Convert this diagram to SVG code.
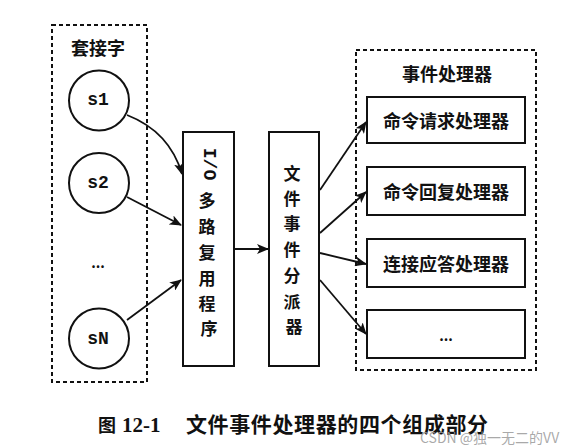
<svg xmlns="http://www.w3.org/2000/svg" width="580" height="447" viewBox="0 0 580 447">
<style>
  .dash { fill: none; stroke: #111; stroke-width: 2; stroke-dasharray: 4 3; }
  .box { fill: #fff; stroke: #111; stroke-width: 2; }
  .circ { fill: #fff; stroke: #111; stroke-width: 2; }
  .cjk { font-family: "Noto Sans CJK SC", "Noto Sans", sans-serif; font-weight: 700; fill: #111; text-anchor: middle; dominant-baseline: central; }
  .mono { font-family: "Liberation Mono", "DejaVu Sans Mono", monospace; font-weight: 700; fill: #111; text-anchor: middle; dominant-baseline: central; font-size: 18px; }
  .conn path { fill: none; stroke: #111; stroke-width: 1.8; marker-end: url(#arr); }
</style>
<defs>
  <marker id="arr" markerUnits="userSpaceOnUse" markerWidth="12" markerHeight="10" refX="11" refY="5" orient="auto">
    <path d="M0,0 L12,5 L0,10 L3,5 Z" fill="#111"/>
  </marker>
</defs>
<rect width="580" height="447" fill="#fff"/>

<g id="sockets">
  <rect class="dash" x="52" y="25" width="95" height="357"/>
  <text class="cjk" x="98" y="47" font-size="18">套接字</text>
</g>
<g id="s1">
  <circle class="circ" cx="99" cy="100.5" r="30"/>
  <text class="mono" x="98" y="100">s1</text>
</g>
<g id="s2">
  <circle class="circ" cx="99" cy="183" r="30"/>
  <text class="mono" x="98" y="183">s2</text>
</g>
<g id="sdots">
  <text class="cjk" x="98" y="262" font-size="14" font-weight="400">...</text>
</g>
<g id="sN">
  <circle class="circ" cx="99" cy="338.5" r="30"/>
  <text class="mono" x="98" y="339">sN</text>
</g>

<g id="io">
  <rect class="box" x="183" y="132" width="51" height="234"/>
  <text class="mono" transform="translate(209,164) rotate(90)">I/O</text>
  <text class="cjk" x="209" font-size="17">
    <tspan x="209" y="199">多</tspan>
    <tspan x="209" y="225">路</tspan>
    <tspan x="209" y="251">复</tspan>
    <tspan x="209" y="277">用</tspan>
    <tspan x="209" y="302">程</tspan>
    <tspan x="209" y="327">序</tspan>
  </text>
</g>

<g id="dispatcher">
  <rect class="box" x="269" y="132" width="50" height="234"/>
  <text class="cjk" x="294" font-size="17">
    <tspan x="294" y="172">文</tspan>
    <tspan x="294" y="197">件</tspan>
    <tspan x="294" y="222">事</tspan>
    <tspan x="294" y="248">件</tspan>
    <tspan x="294" y="274">分</tspan>
    <tspan x="294" y="300">派</tspan>
    <tspan x="294" y="325">器</tspan>
  </text>
</g>

<g id="handlers">
  <rect class="dash" x="356" y="50" width="180" height="320"/>
  <text class="cjk" x="447" y="73" font-size="18">事件处理器</text>
</g>
<g id="h1">
  <rect class="box" x="367" y="97" width="158" height="46"/>
  <text class="cjk" x="446" y="120" font-size="18">命令请求处理器</text>
</g>
<g id="h2">
  <rect class="box" x="367" y="167" width="158" height="48"/>
  <text class="cjk" x="446" y="191" font-size="18">命令回复处理器</text>
</g>
<g id="h3">
  <rect class="box" x="367" y="239" width="158" height="48"/>
  <text class="cjk" x="446" y="263" font-size="18">连接应答处理器</text>
</g>
<g id="h4">
  <rect class="box" x="367" y="310" width="158" height="48"/>
  <text class="cjk" x="446" y="335" font-size="14" font-weight="400">...</text>
</g>

<g id="connectors" class="conn">
  <path d="M127,115 C150,124 172,140 182,174"/>
  <path d="M127,197 L181,225"/>
  <path d="M127,320 L181,280"/>
  <path d="M234,249 L268,249"/>
  <path d="M320,190 L366,122"/>
  <path d="M320,233 L366,192"/>
  <path d="M320,253 L366,264"/>
  <path d="M320,280 L366,334"/>
</g>

<g id="caption">
  <text font-family="Noto Sans CJK SC, sans-serif" font-weight="700" font-size="18" fill="#111" x="98" y="432">图</text>
  <text font-family="Liberation Serif, serif" font-weight="700" font-size="21" fill="#111" x="122" y="432">12-1</text>
  <text font-family="Noto Sans CJK SC, sans-serif" font-weight="700" font-size="21" fill="#111" x="186" y="432" textLength="302">文件事件处理器的四个组成部分</text>
  <text font-family="Noto Sans CJK SC, sans-serif" font-size="14" fill="#9a9a9a" fill-opacity="0.85" x="420" y="443">CSDN @独一无二的VV</text>
</g>
</svg>
